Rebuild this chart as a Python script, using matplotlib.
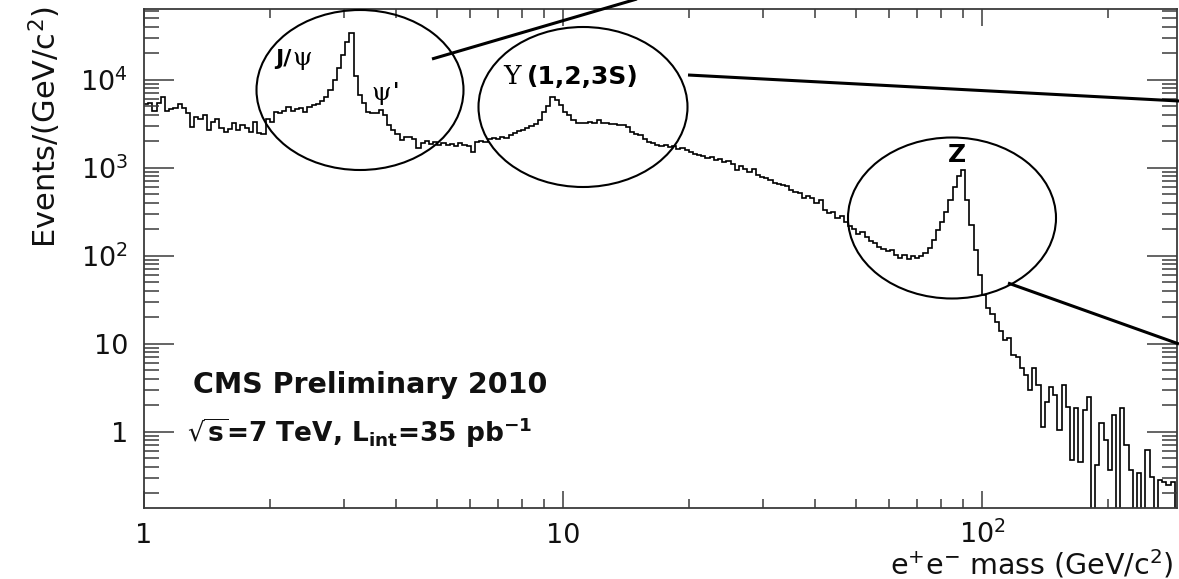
import numpy as np
import matplotlib
matplotlib.use("Agg")
import matplotlib.pyplot as plt
from matplotlib.patches import Ellipse
from matplotlib.lines import Line2D
from matplotlib.ticker import FixedLocator, FixedFormatter, LogLocator, NullFormatter

plt.rcParams['font.family'] = ['DejaVu Sans']
plt.rcParams['mathtext.fontset'] = 'dejavusans'

# Dielectron invariant-mass spectrum, Events/(GeV/c^2).
# Bins are 0.01 wide in log10(m), starting at m = 1 GeV/c^2.
low_mass = [5300, 5440, 4410, 5440, 6360, 4410, 4650, 4770, 5300, 4770,
            4190, 2900, 3770, 3600, 3970, 2680, 3310, 3600, 2830, 2550,
            2750, 3220, 2680, 3060, 2830, 2550, 3310, 2480, 2420, 3620,
            3310, 4300, 4190, 4410, 4900, 4410, 4650, 4770, 4300, 4900,
            5160, 5300, 5660, 6360, 7640]
charmonium = [9930, 13600, 19100, 26800, 34000, 11000, 6700, 5440, 4300, 4190,
              4190, 4530, 3970, 3060, 2680, 2420, 2060, 2230, 2230, 2120,
              1680, 1910]
upsilon_region = [2010, 1860, 1960, 1810, 1910, 1810, 1860, 1770, 1910, 1810,
                  1770, 1510, 1960, 2010, 1960, 2120, 2170, 2120, 2230, 2170,
                  2350, 2480, 2620, 2680, 2830, 2980, 3140, 3480, 4300, 5040,
                  6360, 5900, 5100, 4300, 3970, 3480, 3220, 3220, 3220, 3310,
                  3220, 3480, 3220, 3220, 3140, 3140, 3060, 3060, 2900, 2550,
                  2420, 2350, 2120, 1960, 1910, 1810, 1770, 1810, 1720, 1770,
                  1640, 1680, 1590, 1510, 1430, 1390, 1350, 1290, 1320, 1220,
                  1250, 1160, 1190, 1100]
z_region = [942, 1040, 970, 894, 970, 826, 788, 764, 725, 670,
            655, 636, 620, 558, 530, 520, 453, 475, 453, 397,
            430, 331, 306, 318, 268, 283, 242, 218, 202, 177,
            188, 165, 146, 139, 126, 119, 113, 116, 102, 94,
            102, 92, 100, 94, 100, 107, 122, 151, 196, 242,
            318, 430, 605, 800, 942, 430, 224, 116, 60, 36,
            25.5]
high_mass = [21.7, 17.6, 13.9, 11.0, 11.6, 7.4, 7.1, 5.3, 4.4, 3.0,
             5.3, 3.4, 1.13, 2.2, 3.2, 2.6, 1.05, 3.4, 1.9, 0.48,
             1.86, 0.45, 1.77, 2.5, 0, 0.42, 1.26, 0.81, 0.37, 1.55,
             0, 1.86, 0.71, 0.37, 0, 0.34, 0, 0.62, 0.31, 0,
             0.28, 0.27, 0.25, 0.27, 0]

counts = np.array(low_mass + charmonium + upsilon_region + z_region + high_mass, dtype=float)
log_bin_width = 0.01
edges = 10 ** (log_bin_width * np.arange(len(counts) + 1))

x_ticks = [1, 10, 100]
x_tick_labels = ['1', '10', r'$10^{2}$']
y_ticks = [1, 10, 100, 1e3, 1e4]
y_tick_labels = ['1', '10', r'$10^{2}$', r'$10^{3}$', r'$10^{4}$']

W, H = 1179, 579
fig = plt.figure(figsize=(W / 100, H / 100), dpi=100)
ax = fig.add_axes([144 / W, (H - 508) / H, 1033 / W, 499 / H])

ax.stairs(counts, edges, baseline=None, color='black', lw=1.2)

ax.set_xscale('log')
ax.set_yscale('log')
ax.set_xlim(1, 292)
ax.set_ylim(0.136, 63600)

frame_col = '#3a3a3a'
for s in ax.spines.values():
    s.set_color(frame_col)
    s.set_linewidth(1.3)

ax.xaxis.set_major_locator(FixedLocator(x_ticks))
ax.xaxis.set_major_formatter(FixedFormatter(x_tick_labels))
ax.xaxis.set_minor_locator(LogLocator(base=10, subs=np.arange(2, 10)))
ax.xaxis.set_minor_formatter(NullFormatter())
ax.yaxis.set_major_locator(FixedLocator(y_ticks))
ax.yaxis.set_major_formatter(FixedFormatter(y_tick_labels))
ax.yaxis.set_minor_locator(LogLocator(base=10, subs=np.arange(2, 10), numticks=20))
ax.yaxis.set_minor_formatter(NullFormatter())

ax.tick_params(which='both', direction='in', top=True, right=True,
               color=frame_col, width=1.1, labelsize=19.5, labelcolor='#111111')
ax.tick_params(axis='y', which='major', length=21.6, pad=11.5)
ax.tick_params(axis='y', which='minor', length=10.8)
ax.tick_params(axis='x', which='major', length=12.2, pad=25)
ax.tick_params(axis='x', which='minor', length=6.5)
for lab in ax.get_xticklabels():
    lab.set_va('baseline')


def fx(px):
    return px / W


def fy(py):
    return 1 - py / H


# axis titles
fig.text(fx(1174), fy(575), r'e$^{+}$e$^{-}$ mass (GeV/c$^{2}$)', fontsize=20.5,
         ha='right', va='baseline', color='#111111')
fig.text(fx(45), fy(248), r'Events/(GeV/c$^{2}$)', fontsize=22, rotation=90,
         ha='center', va='bottom', color='#111111')

# experiment labels
fig.text(fx(193), fy(393), 'CMS Preliminary 2010', fontsize=20.5, fontweight='bold',
         ha='left', va='baseline', color='#111111')
fig.text(fx(187), fy(442),
         r'$\sqrt{\mathbf{s}}$=7 TeV, L$_{\mathbf{int}}$=35 pb$^{\mathbf{-1}}$',
         fontsize=19, fontweight='bold', ha='left', va='baseline', color='#111111')

# resonance labels
fig.text(fx(275), fy(65), 'J/', fontsize=16, fontweight='bold', ha='left', va='baseline')
fig.text(fx(292), fy(65), 'ψ', fontsize=18, family='DejaVu Serif', ha='left', va='baseline')
fig.text(fx(371), fy(100), 'ψ', fontsize=18, family='DejaVu Serif', ha='left', va='baseline')
fig.text(fx(393), fy(98), "'", fontsize=15, fontweight='bold', ha='left', va='baseline')
fig.text(fx(503), fy(84), 'Υ', fontsize=19, family='DejaVu Serif', ha='left', va='baseline')
fig.text(fx(527), fy(84), '(1,2,3S)', fontsize=18, fontweight='bold', ha='left', va='baseline')
fig.text(fx(957), fy(162), 'Z', fontsize=18, fontweight='bold', ha='center', va='baseline')

# circled regions
for cx, cy, w, h in [(360, 90, 207, 160), (583, 107, 209, 160), (952, 218, 208, 161)]:
    fig.add_artist(Ellipse((fx(cx), fy(cy)), w / W, h / H, transform=fig.transFigure,
                           fill=False, ec='black', lw=1.5))

# leader lines towards the detail panels
for (x0, y0), (x1, y1) in [((432, 59), (835, -59)), ((688, 75), (1179, 101)),
                           ((1008, 283), (1179, 344))]:
    fig.add_artist(Line2D([fx(x0), fx(x1)], [fy(y0), fy(y1)], transform=fig.transFigure,
                          color='black', lw=2.2, solid_capstyle='butt'))

fig.savefig('out.png', dpi=100)
